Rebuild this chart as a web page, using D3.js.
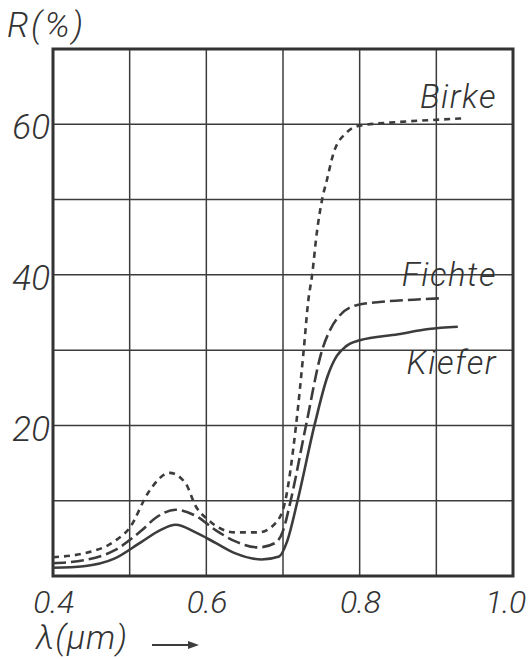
<!DOCTYPE html>
<html>
<head>
<meta charset="utf-8">
<script src="https://cdn.jsdelivr.net/npm/d3@7"></script>
<style>
  html, body { margin: 0; padding: 0; background: #fff; }
  svg { display: block; }
  text { font-family: Roboto, "Liberation Sans", sans-serif; font-style: italic; font-weight: 300; fill: #333; }
</style>
</head>
<body>
<svg id="chart" width="532" height="659"></svg>
<script>
// Spectral reflectance of tree foliage, R (%) against wavelength (µm)
const xGrid = [0.4, 0.5, 0.6, 0.7, 0.8, 0.9, 1.0];
const yGrid = [0, 10, 20, 30, 40, 50, 60, 70];
const xTickLabels = [0.4, 0.6, 0.8, 1.0];
const yTickLabels = [20, 40, 60];

const seriesNames = ["Birke", "Fichte", "Kiefer"];

const birke = [
  [0.400, 2.5], [0.440, 3.0], [0.480, 4.6], [0.500, 6.4], [0.525, 11.2],
  [0.552, 13.7], [0.573, 12.3], [0.586, 9.3], [0.603, 7.4], [0.637, 5.8],
  [0.668, 5.8], [0.690, 7.0], [0.703, 10.0], [0.717, 20.0], [0.727, 30.0],
  [0.733, 36.6], [0.738, 40.0], [0.744, 45.5], [0.751, 50.0], [0.757, 52.5],
  [0.766, 56.2], [0.783, 58.9], [0.800, 59.8], [0.850, 60.3], [0.900, 60.6],
  [0.937, 60.8]
];
const fichte = [
  [0.400, 1.7], [0.440, 2.1], [0.480, 3.4], [0.515, 6.0], [0.535, 7.8],
  [0.560, 8.8], [0.586, 8.0], [0.612, 6.1], [0.638, 4.6], [0.668, 3.8],
  [0.690, 4.4], [0.700, 6.0], [0.710, 10.0], [0.730, 20.0], [0.751, 30.0],
  [0.762, 32.8], [0.774, 34.6], [0.797, 36.0], [0.826, 36.4], [0.870, 36.7],
  [0.909, 36.9]
];
const kiefer = [
  [0.400, 1.1], [0.440, 1.3], [0.480, 2.3], [0.515, 4.5], [0.540, 6.1],
  [0.560, 6.8], [0.586, 5.8], [0.612, 4.4], [0.638, 3.0], [0.672, 2.2],
  [0.695, 2.6], [0.705, 4.5], [0.719, 10.0], [0.741, 20.0], [0.758, 26.5],
  [0.770, 29.2], [0.782, 30.5], [0.800, 31.3], [0.850, 32.1], [0.890, 32.8],
  [0.928, 33.1]
];

const margin = { left: 53, right: 19, top: 49, bottom: 83 };
const W = 532, H = 659;
const svg = d3.select("#chart");

const x = d3.scaleLinear().domain([0.4, 1.0]).range([margin.left, W - margin.right]);
const y = d3.scaleLinear().domain([0, 70]).range([H - margin.bottom, margin.top]);

const ink = "#3c3c3c";

// grid
svg.append("g").selectAll("line").data(xGrid).join("line")
  .attr("x1", d => x(d)).attr("x2", d => x(d))
  .attr("y1", y(0)).attr("y2", y(70))
  .attr("stroke", ink).attr("stroke-width", 1.5);
svg.append("g").selectAll("line").data(yGrid).join("line")
  .attr("x1", x(0.4)).attr("x2", x(1.0))
  .attr("y1", d => y(d)).attr("y2", d => y(d))
  .attr("stroke", ink).attr("stroke-width", 1.5);

// frame
svg.append("rect")
  .attr("x", x(0.4)).attr("y", y(70))
  .attr("width", x(1.0) - x(0.4)).attr("height", y(0) - y(70))
  .attr("fill", "none").attr("stroke", "#333").attr("stroke-width", 3);

// tick labels (the last one is pulled in so it stays on the page)
const xAxis = svg.append("g")
  .attr("transform", `translate(0,${y(0)})`)
  .call(d3.axisBottom(x).tickValues(xTickLabels).tickFormat(d3.format(".1f")).tickSize(0).tickPadding(0));
xAxis.select(".domain").remove();
xAxis.selectAll("text")
  .attr("y", 37).attr("dy", 0).attr("font-size", 32)
  .attr("letter-spacing", -0.5).attr("fill", "#333")
  .attr("dx", (d, i, n) => i === n.length - 1 ? -8 : 0);

const yAxis = svg.append("g")
  .attr("transform", `translate(${x(0.4)},0)`)
  .call(d3.axisLeft(y).tickValues(yTickLabels).tickSize(0).tickPadding(0));
yAxis.select(".domain").remove();
yAxis.selectAll("text")
  .attr("x", -3).attr("dy", "0.42em").attr("font-size", 35).attr("fill", "#333");

// curves
const line = d3.line().x(d => x(d[0])).y(d => y(d[1])).curve(d3.curveMonotoneX);
const curves = [
  { data: birke, dash: "6 5" },
  { data: fichte, dash: "13 5" },
  { data: kiefer, dash: null }
];
svg.append("g").selectAll("path").data(curves).join("path")
  .attr("d", d => line(d.data))
  .attr("fill", "none")
  .attr("stroke", ink)
  .attr("stroke-width", 2.6)
  .attr("stroke-dasharray", d => d.dash);

// curve names
const namePos = [108, 286, 374];
svg.append("g").selectAll("text").data(seriesNames).join("text")
  .attr("x", 497).attr("y", (d, i) => namePos[i])
  .attr("text-anchor", "end").attr("font-size", 33)
  .attr("letter-spacing", 1.5)
  .text(d => d);

// axis titles
svg.append("text").attr("x", 7).attr("y", 37).attr("font-size", 35)
  .attr("letter-spacing", 2.5).text("R(%)");
svg.append("text").attr("x", 36).attr("y", 649).attr("font-size", 34)
  .attr("letter-spacing", 1).text("λ(µm)");
svg.append("line")
  .attr("x1", 152).attr("x2", 190).attr("y1", 645).attr("y2", 645)
  .attr("stroke", ink).attr("stroke-width", 2);
svg.append("path")
  .attr("d", "M188,641 L199,645 L188,649 Z")
  .attr("fill", ink);
</script>
</body>
</html>
